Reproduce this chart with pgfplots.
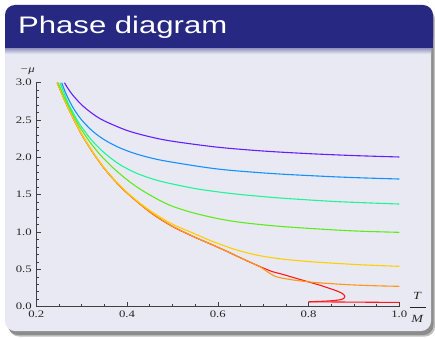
\documentclass[border=0pt]{standalone}
\usepackage{pgfplots}
\pgfplotsset{compat=1.18}
\usepackage{fontspec}
\setmainfont{Liberation Serif}
\newfontfamily\titlefont{Liberation Sans}
\definecolor{barblue}{RGB}{38,40,130}
\definecolor{panel}{RGB}{233,233,243}
\definecolor{cpurple}{RGB}{100,30,255}
\definecolor{cblue}{RGB}{20,145,255}
\definecolor{cteal}{RGB}{30,245,150}
\definecolor{cgreen}{RGB}{95,235,25}
\definecolor{cyellow}{RGB}{255,205,0}
\definecolor{corange}{RGB}{255,150,20}
\definecolor{cred}{RGB}{255,25,25}
\begin{document}
\begin{tikzpicture}[x=1bp,y=1bp]
\fill[white] (0,0) rectangle (435,337);
\fill[black!25, rounded corners=10bp] (9,0.5) rectangle (435,328);
\fill[black!45, rounded corners=10bp] (8,2) rectangle (433.5,328);
\fill[panel, rounded corners=10bp] (5,6) rectangle (431,332);
\fill[barblue, rounded corners=10bp] (5,289) rectangle (433,332);
\fill[barblue] (5,289) rectangle (433,300);
\shade[top color=barblue!45!panel, bottom color=panel] (5,283) rectangle (431,289);
\node[anchor=base west, inner sep=0, text=white] at (18,304) {\scalebox{1.3}[1]{\titlefont\fontsize{24}{28}\selectfont Phase diagram}};
\coordinate (AX) at (36.3,30.3);
\begin{axis}[
  at={(AX)}, anchor=origin,
  scale only axis, width=363bp, height=224bp,
  xmin=0.2, xmax=1.0, ymin=0, ymax=3,
  axis x line*=bottom, axis y line*=left,
  axis line style={black!75, line width=0.7bp},
  xtick={0.2,0.4,0.6,0.8,1.0},
  ytick={0,0.5,1,1.5,2,2.5,3},
  minor x tick num=3, minor y tick num=4,
  tick align=inside,
  major tick length=4.5bp, minor tick length=2.5bp,
  every tick/.style={black!75, line width=0.6bp},
  /pgf/number format/assume math mode=true,
  xticklabel={\scalebox{1.28}[1]{\pgfmathprintnumber[fixed,fixed zerofill,precision=1]{\tick}}},
  yticklabel={\scalebox{1.28}[1]{\pgfmathprintnumber[fixed,fixed zerofill,precision=1]{\tick}}},
  tick label style={font=\fontsize{10}{12}\selectfont, text=black!85},
  xticklabel style={yshift=-1bp},
  yticklabel style={xshift=-1bp},
  xlabel={\begin{tabular}{@{}c@{}}\scalebox{1.28}[1]{\textit{T}}\\[-4bp]\rule{16bp}{0.5bp}\\[3bp]\scalebox{1.28}[1]{\textit{M}}\end{tabular}},
  x label style={at={(axis description cs:1,0)}, anchor=west, inner sep=0pt, xshift=10bp, yshift=-2bp, font=\fontsize{11}{12}\selectfont, text=black!85},
  ylabel={\scalebox{1.28}[1]{\textit{−μ}}},
  y label style={rotate=-90, at={(axis description cs:0,1)}, anchor=south, xshift=-9bp, yshift=5bp, font=\fontsize{10}{12}\selectfont, text=black!85},
  clip=false,
  every axis plot/.style={line width=1.1bp, smooth, tension=0.5},
]
\addplot[cred] coordinates {(0.246,3.0)(0.26,2.80)(0.27,2.665)(0.28,2.54)(0.29,2.42)(0.30,2.305)(0.325,2.062)(0.35,1.851)(0.375,1.675)(0.40,1.523)(0.43,1.367)(0.46,1.225)(0.50,1.075)(0.544,0.945)(0.58,0.85)(0.617,0.75)(0.65,0.655)(0.69,0.545)(0.72,0.47)(0.739,0.44)(0.77,0.385)(0.80,0.332)(0.825,0.288)(0.849,0.24)(0.865,0.205)(0.875,0.175)(0.880,0.14)(0.878,0.112)(0.870,0.094)(0.855,0.082)(0.835,0.074)(0.815,0.069)(0.80,0.066)};
\addplot[cred, sharp plot] coordinates {(0.80,0.066)(1.0,0.057)};
\addplot[corange] coordinates {(0.246,3.0)(0.26,2.80)(0.27,2.665)(0.28,2.54)(0.29,2.42)(0.30,2.305)(0.325,2.062)(0.35,1.851)(0.375,1.675)(0.40,1.523)(0.43,1.367)(0.46,1.228)(0.50,1.078)(0.544,0.947)(0.58,0.85)(0.617,0.75)(0.65,0.655)(0.69,0.545)(0.71,0.465)(0.725,0.41)(0.74,0.385)(0.77,0.355)(0.813,0.325)(0.886,0.295)(0.95,0.28)(1.0,0.273)};
\addplot[cyellow] coordinates {(0.246,3.0)(0.26,2.802)(0.27,2.668)(0.28,2.544)(0.29,2.425)(0.30,2.31)(0.325,2.068)(0.35,1.858)(0.375,1.683)(0.40,1.533)(0.43,1.38)(0.46,1.25)(0.50,1.105)(0.544,0.99)(0.58,0.895)(0.617,0.81)(0.65,0.745)(0.691,0.685)(0.739,0.64)(0.80,0.605)(0.849,0.585)(0.92,0.56)(1.0,0.541)};
\addplot[cgreen] coordinates {(0.248,3.0)(0.26,2.83)(0.27,2.70)(0.28,2.58)(0.29,2.465)(0.30,2.365)(0.32,2.19)(0.343,2.02)(0.37,1.855)(0.40,1.70)(0.43,1.57)(0.47,1.43)(0.50,1.345)(0.544,1.26)(0.60,1.18)(0.654,1.127)(0.739,1.075)(0.849,1.031)(0.92,1.01)(1.0,0.996)};
\addplot[cteal] coordinates {(0.2525,3.0)(0.26,2.88)(0.27,2.73)(0.28,2.61)(0.29,2.50)(0.30,2.405)(0.32,2.245)(0.34,2.115)(0.36,2.01)(0.385,1.90)(0.42,1.79)(0.47,1.686)(0.544,1.589)(0.60,1.538)(0.654,1.50)(0.739,1.455)(0.849,1.412)(0.92,1.393)(1.0,1.375)};
\addplot[cblue] coordinates {(0.256,3.0)(0.26,2.934)(0.265,2.859)(0.27,2.792)(0.28,2.676)(0.29,2.581)(0.30,2.50)(0.32,2.373)(0.34,2.276)(0.36,2.20)(0.385,2.125)(0.42,2.046)(0.47,1.968)(0.544,1.892)(0.60,1.844)(0.654,1.813)(0.739,1.776)(0.849,1.742)(0.92,1.725)(1.0,1.71)};
\addplot[cpurple] coordinates {(0.262,3.0)(0.27,2.921)(0.28,2.837)(0.30,2.703)(0.325,2.58)(0.35,2.488)(0.40,2.36)(0.45,2.276)(0.50,2.216)(0.60,2.136)(0.70,2.085)(0.80,2.05)(0.90,2.024)(1.0,2.005)};
\end{axis}
\pgfresetboundingbox
\path[use as bounding box] (0,0) rectangle (435,337);
\end{tikzpicture}
\end{document}
